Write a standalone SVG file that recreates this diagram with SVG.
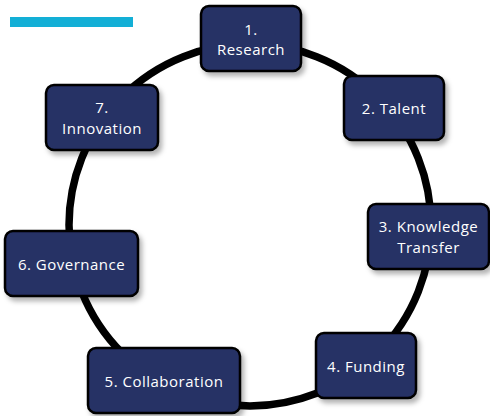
<svg xmlns="http://www.w3.org/2000/svg" width="490" height="416" viewBox="0 0 490 416">
<defs>
<filter id="sh" x="-20%" y="-20%" width="150%" height="150%">
<feDropShadow dx="3" dy="4" stdDeviation="2.5" flood-color="#000" flood-opacity="0.3"/>
</filter>
<style>
.box{fill:#263165;stroke:#000;stroke-width:2.5;filter:url(#sh)}
.t{fill:#fff;font-family:"Open Sans","Liberation Sans",sans-serif;font-size:15px;text-anchor:middle;letter-spacing:0.5px}
.ring{fill:none;stroke:#000;stroke-width:7.5}
</style>
</defs>
<rect width="490" height="416" fill="#fff"/>
<rect x="10" y="17" width="123" height="10" fill="#13afd6"/>
<g id="connectors">
<circle class="ring" cx="250" cy="225" r="181"/>
</g>
<g id="n1"><rect class="box" x="201" y="6" width="100" height="65" rx="8"/><text class="t" x="251" y="35">1.</text><text class="t" x="251" y="55">Research</text></g>
<g id="n2"><rect class="box" x="344" y="76" width="100" height="64" rx="8"/><text class="t" x="394" y="114">2. Talent</text></g>
<g id="n3"><rect class="box" x="368" y="204" width="121" height="65" rx="8"/><text class="t" x="428.5" y="232">3. Knowledge</text><text class="t" x="428.5" y="253">Transfer</text></g>
<g id="n4"><rect class="box" x="316" y="333" width="100" height="65" rx="8"/><text class="t" x="366" y="372">4. Funding</text></g>
<g id="n5"><rect class="box" x="88" y="348" width="152" height="65" rx="8"/><text class="t" x="164" y="387">5. Collaboration</text></g>
<g id="n6"><rect class="box" x="5" y="231" width="133" height="65" rx="8"/><text class="t" x="71.5" y="270">6. Governance</text></g>
<g id="n7"><rect class="box" x="46" y="85" width="112" height="65" rx="8"/><text class="t" x="102" y="113">7.</text><text class="t" x="102" y="134">Innovation</text></g>
</svg>
